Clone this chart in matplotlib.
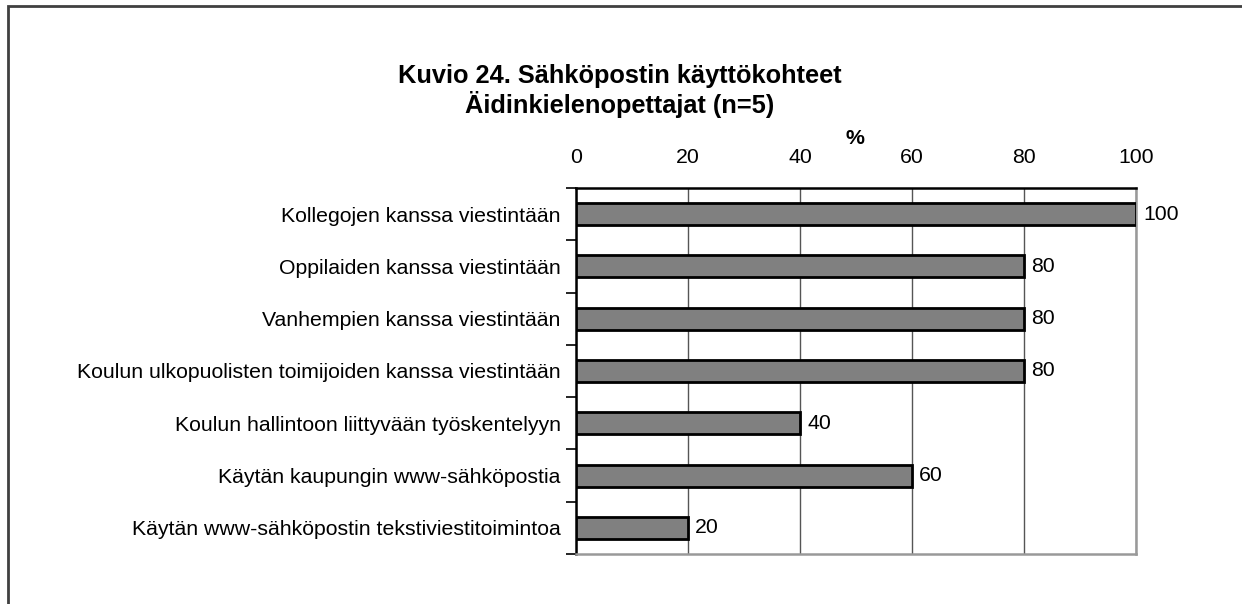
import matplotlib
matplotlib.use("Agg")
import matplotlib.pyplot as plt
from matplotlib.patches import Rectangle

plt.rcParams['font.family'] = ['Liberation Sans', 'DejaVu Sans']

categories = [
    "Kollegojen kanssa viestintään",
    "Oppilaiden kanssa viestintään",
    "Vanhempien kanssa viestintään",
    "Koulun ulkopuolisten toimijoiden kanssa viestintään",
    "Koulun hallintoon liittyvään työskentelyyn",
    "Käytän kaupungin www-sähköpostia",
    "Käytän www-sähköpostin tekstiviestitoimintoa",
]
values = [100, 80, 80, 80, 40, 60, 20]
xticks = [0, 20, 40, 60, 80, 100]

W, H = 1242, 604
fs = 15.3
fig = plt.figure(figsize=(W / 100, H / 100), dpi=100)

# outer chart frame (only top and left edges visible in the picture)
fig.patches.append(Rectangle((8 / W, -0.1), 1.2, 1.1 - 6 / H, transform=fig.transFigure,
                             fill=False, edgecolor="#404040", linewidth=2))

ax = fig.add_axes([576 / W, 1 - 554 / H, (1136 - 576) / W, (554 - 188) / H])

pos = list(range(len(categories)))
ax.barh(pos, values, height=0.42, color="#808080", edgecolor="black", linewidth=2, zorder=3)
for y, v in zip(pos, values):
    ax.text(v + 1.3, y, str(v), va="center", ha="left", fontsize=fs)

ax.set_xlim(0, 100)
ax.set_ylim(len(categories) - 0.5, -0.5)
ax.set_xticks(xticks)
ax.xaxis.tick_top()
ax.tick_params(axis="x", length=0, pad=15, labelsize=fs)
ax.set_yticks(pos)
ax.set_yticklabels(categories, fontsize=fs)
ax.tick_params(axis="y", which="major", length=0, pad=11)
ax.set_yticks([p - 0.5 for p in pos] + [len(pos) - 0.5], minor=True)
ax.tick_params(axis="y", which="minor", length=7, width=1.2, color="black")
ax.grid(axis="x", color="#555555", linewidth=1, zorder=0)

ax.spines["top"].set_color("black")
ax.spines["left"].set_color("black")
ax.spines["right"].set_color("#999999")
ax.spines["bottom"].set_color("#999999")
for s in ax.spines.values():
    s.set_linewidth(1.8)

fig.text(620 / W, 1 - 83 / H, "Kuvio 24. Sähköpostin käyttökohteet", ha="center", va="baseline",
         fontsize=18.3, fontweight="bold")
fig.text(620 / W, 1 - 113 / H, "Äidinkielenopettajat (n=5)", ha="center", va="baseline",
         fontsize=18.3, fontweight="bold")
fig.text(855 / W, 1 - 144 / H, "%", ha="center", va="baseline", fontsize=fs, fontweight="bold")

fig.savefig("out.png", dpi=100)
